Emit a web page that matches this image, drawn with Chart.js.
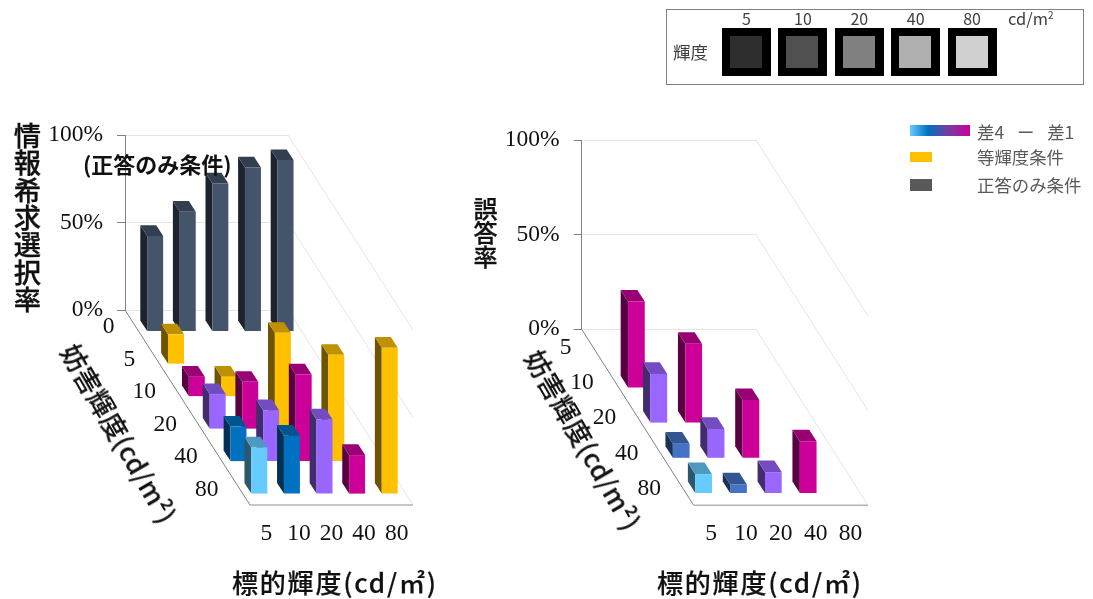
<!DOCTYPE html>
<html lang="ja">
<head>
<meta charset="utf-8">
<title>情報希求選択率と誤答率</title>
<script src="https://cdn.jsdelivr.net/npm/chart.js@4/dist/chart.umd.js"></script>
<style>
  html, body { margin: 0; padding: 0; background: #fff; }
  #page { position: relative; width: 1093px; height: 599px; overflow: hidden; font-family: "Noto Sans CJK JP", "Noto Sans", sans-serif; }
  canvas { position: absolute; left: 0; top: 0; }
  .t { position: absolute; white-space: nowrap; color: #111; line-height: 1; }
  .vertical { writing-mode: vertical-rl; text-orientation: upright; }
  .axisTitle { font-size: 26px; font-weight: 500; -webkit-text-stroke: .2px #111; }
  .sloped { transform-origin: 0 50%; transform: rotate(60deg); }
  #panel { position: absolute; left: 666px; top: 9px; width: 416px; height: 74px; border: 1.5px solid #808080; background: #fff; }
  .swatch { position: absolute; background: #000; width: 49px; height: 48px; top: 18px; }
  .swatch i { position: absolute; left: 8px; top: 8px; width: 32px; height: 32px; display: block; }
  .pl { position: absolute; top: 0; width: 49px; text-align: center; font-size: 16px; color: #404040; line-height: 16px; }
  .key { position: absolute; left: 910px; }
  .keyText { position: absolute; left: 977px; font-size: 17.4px; line-height: 1; color: #595959; white-space: nowrap; }
</style>
</head>
<body>
<div id="page">
  <canvas id="searchChart" width="1093" height="599"></canvas>
  <canvas id="errorChart" width="1093" height="599"></canvas>

  <div class="t vertical" style="left:13px;top:122px;font-size:27.3px;font-weight:500;-webkit-text-stroke:.3px #111;">情報希求選択率</div>
  <div class="t" style="left:83px;top:152px;font-size:22px;font-weight:700;">(正答のみ条件)</div>
  <div class="t vertical" style="left:473px;top:197px;font-size:24px;font-weight:500;-webkit-text-stroke:.3px #111;">誤答率</div>

  <div class="t axisTitle sloped" style="left:69px;top:333px;letter-spacing:.4px;">妨害輝度(cd/m²)</div>
  <div class="t axisTitle sloped" style="left:533px;top:339px;letter-spacing:.5px;">妨害輝度(cd/m²)</div>
  <div class="t axisTitle" style="left:232px;top:569px;letter-spacing:1.8px;">標的輝度(cd/㎡)</div>
  <div class="t axisTitle" style="left:657px;top:569px;letter-spacing:1.8px;">標的輝度(cd/㎡)</div>

  <div id="panel"><div class="t" style="left:6px;top:33px;font-size:17.5px;color:#404040;">輝度</div></div>

  <div class="key" style="top:125px;width:60px;height:11px;background:linear-gradient(90deg,#66ccff 0%,#0070c0 30%,#7a3a9e 65%,#cc0099 100%);"></div>
  <div class="key" style="top:152px;width:22px;height:10px;background:#ffc000;"></div>
  <div class="key" style="top:179px;width:22px;height:12px;background:#595959;"></div>
  <div class="keyText" style="top:123px;word-spacing:9px;">差4 ー 差1</div>
  <div class="keyText" style="top:148px;">等輝度条件</div>
  <div class="keyText" style="top:176px;">正答のみ条件</div>
</div>

<script>
// Target luminance along the width of each plot, in cd/m2
const targetLevels = ['5', '10', '20', '40', '80'];

// Left plot: distractor luminance rows, back to front
const searchRows = ['0', '5', '10', '20', '40', '80'];
const searchRow0 = [54.6, 68.5, 84.6, 93.8, 98];
const searchRow5 = [17, null, null, null, null];
const searchRow10 = [11.4, 11.4, null, null, null];
const searchRow20 = [20, 27, 55, null, null];
const searchRow40 = [20, 29.4, 49.8, 61, null];
const searchRow80 = [26.7, 33.3, 42.7, 22.3, 83.7];

// Right plot: distractor luminance rows, back to front
const errorRows = ['5', '10', '20', '40', '80'];
const errorRow5 = [null, null, null, null, null];
const errorRow10 = [45.6, null, null, null, null];
const errorRow20 = [26, 41.9, null, null, null];
const errorRow40 = [7.7, 15.5, 30.8, null, null];
const errorRow80 = [10.2, 4.8, 11.3, 27.6, null];

// Reference chips in the luminance panel
const chipLabels = ['5', '10', '20', '40', '80'];
const chipGreys = ['#2e2e2e', '#505050', '#808080', '#b0b0b0', '#d0d0d0'];

// Colours by condition
const DARK = '#44546a', YELLOW = '#ffc000', MAGENTA = '#cc0099', PURPLE = '#9966ff', SKY = '#66ccff';
const searchByDifference = [YELLOW, MAGENTA, PURPLE, '#0070c0', SKY];
const errorByDifference = [YELLOW, MAGENTA, PURPLE, '#4472c4', SKY];

function shade(hex, f) {
  const n = parseInt(hex.slice(1), 16);
  const c = s => Math.round(((n >> s) & 255) * f);
  return `rgb(${c(16)},${c(8)},${c(0)})`;
}

// Bar controller that extrudes each rectangle along an oblique depth axis.
class Bar3DController extends Chart.BarController {
  draw() {
    const { chart } = this;
    const z = chart.scales.z;
    const { depthX, depthY, depthShare } = chart.options.plugins.obliqueBox;
    const ctx = chart.ctx;
    const rowIndex = this.getDataset().depthIndex;
    const centre = (z.getPixelForValue(rowIndex) - z.left) / z.width;
    const half = depthShare / 2 / z.getLabels().length;
    const f = centre + half, b = centre - half;
    const points = (pts, colour) => {
      ctx.fillStyle = colour;
      ctx.beginPath();
      pts.forEach(([x, y], i) => (i ? ctx.lineTo(x, y) : ctx.moveTo(x, y)));
      ctx.closePath();
      ctx.fill();
    };
    this._cachedMeta.data.forEach((bar, i) => {
      const parsed = this.getParsed(i);
      if (parsed.y === null || parsed.y === undefined || isNaN(parsed.y)) return;
      const colour = bar.options.backgroundColor;
      const l = bar.x - bar.width / 2, r = bar.x + bar.width / 2;
      const fx = f * depthX, fy = f * depthY, bx = b * depthX, by = b * depthY;
      ctx.save();
      points([[l + bx, bar.base + by], [l + fx, bar.base + fy], [l + fx, bar.y + fy], [l + bx, bar.y + by]], shade(colour, 0.43));
      points([[l + fx, bar.y + fy], [r + fx, bar.y + fy], [r + bx, bar.y + by], [l + bx, bar.y + by]], shade(colour, 0.75));
      points([[l + fx, bar.base + fy], [r + fx, bar.base + fy], [r + fx, bar.y + fy], [l + fx, bar.y + fy]], colour);
      ctx.restore();
    });
  }
}
Bar3DController.id = 'bar3d';
Bar3DController.defaults = Chart.BarController.defaults;
Chart.register(Bar3DController);

const SERIF = '"Liberation Serif", serif';

// Side wall, floor edges and the tick labels that sit on the floor edges.
const obliqueBox = {
  id: 'obliqueBox',
  beforeDatasetsDraw(chart, args, o) {
    const { ctx, scales: { y } } = chart;
    const { left, right, bottom } = chart.chartArea;
    ctx.save();
    ctx.lineWidth = 1;
    ctx.strokeStyle = '#e4e4e4';
    y.ticks.forEach(t => {
      const py = y.getPixelForValue(t.value);
      ctx.beginPath();
      ctx.moveTo(right, py);
      ctx.lineTo(right + o.depthX, py + o.depthY);
      ctx.stroke();
    });
    ctx.strokeStyle = '#808080';
    ctx.beginPath();
    ctx.moveTo(left, bottom);
    ctx.lineTo(left + o.depthX, bottom + o.depthY);
    ctx.stroke();
    ctx.strokeStyle = '#b4b4b4';
    ctx.lineWidth = 1.6;
    ctx.beginPath();
    ctx.moveTo(left + o.depthX, bottom + o.depthY);
    ctx.lineTo(right + o.depthX, bottom + o.depthY);
    ctx.stroke();
    ctx.restore();
  },
  afterDraw(chart, args, o) {
    const { ctx, scales: { x, z } } = chart;
    const { left, bottom } = chart.chartArea;
    ctx.save();
    ctx.fillStyle = '#111';
    ctx.font = `23.5px ${SERIF}`;
    ctx.textBaseline = 'middle';
    ctx.textAlign = 'center';
    x.getLabels().forEach((label, i) => {
      ctx.fillText(label, x.getPixelForValue(i) + o.depthX, bottom + o.depthY + o.labelDrop);
    });
    ctx.textAlign = 'right';
    z.getLabels().forEach((label, i) => {
      const f = (z.getPixelForValue(i) - z.left) / z.width;
      ctx.fillText(label, left + f * o.depthX - o.labelGap, bottom + f * o.depthY + 1);
    });
    ctx.restore();
  }
};

function buildPlot(id, rows, rowValues, colourOf, area) {
  return new Chart(document.getElementById(id), {
    type: 'bar3d',
    data: {
      labels: targetLevels,
      datasets: rowValues.map((values, r) => ({
        label: rows[r],
        data: values,
        depthIndex: r,
        order: rows.length - r,
        clip: false,
        backgroundColor: c => colourOf(r, c.dataIndex)
      }))
    },
    options: {
      responsive: false,
      animation: false,
      devicePixelRatio: 1,
      grouped: false,
      barPercentage: area.barShare,
      categoryPercentage: 1,
      layout: { padding: { left: area.left - 80, right: 1093 - area.right, top: area.top, bottom: 599 - area.bottom } },
      scales: {
        x: { display: false, type: 'category', offset: true },
        z: { display: false, type: 'category', axis: 'x', labels: rows, offset: true },
        y: {
          type: 'linear', min: 0, max: 100,
          afterFit(s) { s.width = 80; },
          border: { color: '#808080', width: 1 },
          grid: { color: '#e4e4e4', tickColor: '#808080', tickLength: 8 },
          ticks: { stepSize: 50, padding: 14, color: '#111', font: { family: SERIF, size: 23.5 }, callback: v => v + '%' }
        }
      },
      plugins: {
        legend: { display: false },
        tooltip: { enabled: false },
        obliqueBox: area.depth
      }
    },
    plugins: [obliqueBox]
  });
}

buildPlot('searchChart', searchRows,
  [searchRow0, searchRow5, searchRow10, searchRow20, searchRow40, searchRow80],
  (r, c) => (r === 0 ? DARK : searchByDifference[r - 1 - c]),
  { left: 125, right: 288, top: 135, bottom: 310, barShare: 0.49,
    depth: { depthX: 125, depthY: 195, depthShare: 0.33, labelDrop: 29, labelGap: 21 } });

buildPlot('errorChart', errorRows,
  [errorRow5, errorRow10, errorRow20, errorRow40, errorRow80],
  (r, c) => errorByDifference[r - c],
  { left: 581.7, right: 756, top: 140, bottom: 329.3, barShare: 0.48,
    depth: { depthX: 112, depthY: 176, depthShare: 0.33, labelDrop: 29, labelGap: 21.5 } });

// Luminance reference panel
const panel = document.getElementById('panel');
chipLabels.forEach((label, i) => {
  const left = 55 + i * 56.4;
  const cap = document.createElement('div');
  cap.className = 'pl';
  cap.style.left = left + 'px';
  cap.textContent = label;
  const chip = document.createElement('div');
  chip.className = 'swatch';
  chip.style.left = left + 'px';
  const inner = document.createElement('i');
  inner.style.background = chipGreys[i];
  chip.appendChild(inner);
  panel.append(cap, chip);
});
const unit = document.createElement('div');
unit.className = 'pl';
unit.style.cssText = 'left:341px;width:auto;font-size:16.5px;';
unit.innerHTML = 'cd/m<sup style="font-size:10px;line-height:0">2</sup>';
panel.appendChild(unit);
</script>
</body>
</html>
